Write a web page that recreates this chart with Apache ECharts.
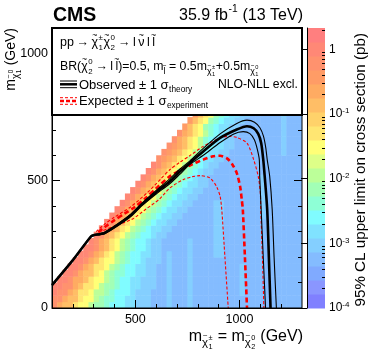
<!DOCTYPE html>
<html>
<head>
<meta charset="utf-8">
<script src="https://cdn.jsdelivr.net/npm/echarts@6.0.0/dist/echarts.min.js"></script>
<style>
  html, body { margin: 0; padding: 0; background: #fff; }
  #chart { width: 374px; height: 359px; }
</style>
</head>
<body>
<div id="chart"></div>
<script>
const FONT = '"Liberation Sans", Arial, Helvetica, sans-serif';

// upper-limit map: 25 GeV bins, first column at m(chargino) = 100, first row at m(LSP) = 0
// one letter per bin = colour band (a = lowest band ... t = highest), '.' = no point
const CELL = 25;
const X_START = 100;
const LEVELS = 'abcdefghijklmnopqrst';
const cellRows = [
  "rpoomllj iihgggff eeeddded ddeddddd dddddddd dddddddd",
  "rrpoomll jihhggff eeeddded ddeddddd dddddddd dddddddd",
  "srrpomml jjihgggf eeeddded ddeddddd ddddeddd dddddddd",
  "ssrrpomm ljiihggf feeedded ddeddddd ddddeddd dddddddd",
  ".ssrppom lljihggf feeedded ddeddddd ddddeddd dddddddd",
  "..ssrpoo mljihhgg ffeedded ddeddddd ddddeddd dddddddd",
  "...ssrpo mmljihgg ffeedded ddeddddd ddddeddd dddddddd",
  "....ssrp omlljihg gfeeeded ddeddddd dddddddd dddddddd",
  ".....ssr pomljihg gffeeded ddedddde eddddddd dddddddd",
  "......ss rpomljih ggfeeddd ddedddde eddddddd dddddddd",
  ".......s rpomljih ggfeeddd ddedddde eddddddd dddddddd",
  "........ srpomlji hggfeedd ddddddde eddddddd dddddddd",
  "........ .srpomlj ihgffeed ddddddde eddddddd dddddddd",
  "........ ..srpoml jihgffee ddddddde eddddddd dddddddd",
  "........ ...srpom ljihgffe edddddde eddddddd eddddddd",
  "........ ....srpo mljihgff eeddddde eddddddd eddddddd",
  "........ .....srp omljihgf feedddde eddddddd eddddddd",
  "........ ......sr pomljihg ffeedddd dddddddd eddddddd",
  "........ .......s rpomljih gffeeddd dddddddd eddddddd",
  "........ ........ srpomlji hgffeedd dddddddd eddddddd",
  "........ ........ .srpomlj ihgfeedd dddddddd eddddddd",
  "........ ........ ..srpoml jihgfeed dddddddd dddddddd",
  "........ ........ ...srpom ljihgfee dddddddd dddddddd",
  "........ ........ ....rqpo mljhgffe eddddddd dddddddd",
  "........ ........ .....rqp omljhgff eedddddd ddddeddd",
  "........ ........ ......rq pomljhgf feeddddd ddddeddd",
  "........ ........ .......r pomljhgf feeddddd ddddeddd",
  "........ ........ ........ rpomljhg ffeedddd ddddeddd",
  "........ ........ ........ .qomlihg ffeedddd ddddeddd",
  "........ ........ ........ ..qomlih gffeeddd ddddeddd",
  "........ ........ ........ ...qomli hgffeedd ddddeddd"
];

// colour bar: 20 bands on log10(pb) from -4 to 0.33
const bandColors = [
  '#8080ff', '#8a96ff', '#80aaff', '#84bcff', '#84cfff', '#80e2ff', '#80fcff',
  '#8effd6', '#a2ffb6', '#bcff99', '#deff88', '#ffff77', '#ffe672', '#ffd26a',
  '#ffbe66', '#ffab62', '#ff9c66', '#ff926e', '#ff8876', '#ff7f7f'
];
const Z_MIN = -4, Z_MAX = 0.33;
const Z_STEP = (Z_MAX - Z_MIN) / bandColors.length;

// contours [m(chargino), m(LSP)] in GeV
const observed = [[100,90],[200,188],[287,281],[303,287],[330,290],[351,294],[416,327],[481,366],[529,405],[600,455],[665,497],[713,535],[761,570],[826,615],[907,668],[987,701],[1036,714],[1068,706],[1090,684],[1104,648],[1114,583],[1121,517],[1133,386],[1141,200],[1149,0]];
const obsUp = [[100,92],[200,190],[287,283],[303,289],[330,293],[351,297],[416,331],[481,371],[529,410],[600,462],[665,507],[713,545],[761,577],[826,627],[907,684],[987,725],[1036,738],[1072,730],[1098,708],[1115,675],[1126,630],[1133,583],[1145,517],[1157,386],[1166,200],[1177,0]];
const obsDown = [[100,88],[200,186],[287,279],[303,285],[330,288],[351,291],[416,323],[481,361],[529,400],[600,448],[665,488],[713,525],[761,563],[826,600],[907,650],[970,683],[1018,693],[1050,685],[1072,660],[1085,625],[1095,583],[1097,517],[1104,386],[1114,200],[1125,0]];
const expected = [[322,298],[360,322],[400,345],[450,372],[495,395],[550,432],[600,470],[665,517],[713,540],[761,560],[826,583],[874,596],[907,598],[940,588],[965,565],[987,530],[1003,477],[1011,425],[1016,386],[1026,200],[1036,0]];
const expUp = [[312,300],[350,328],[400,357],[479,398],[560,455],[620,505],[665,543],[713,572],[761,598],[826,635],[907,668],[950,675],[987,670],[1036,648],[1068,583],[1090,517],[1100,452],[1102,386],[1110,200],[1117,0]];
const expDown = [[325,298],[400,322],[487,350],[550,388],[616,428],[665,471],[729,504],[770,515],[810,520],[858,511],[890,477],[907,438],[915,386],[930,200],[946,0]];

const xMajor = [500, 1000];
const xMinor = [200, 300, 400, 600, 700, 800, 900, 1100, 1200];
const yMajor = [0, 500, 1000];
const yMinor = [100, 200, 300, 400, 600, 700, 800, 900];
const zMajor = [-4, -3, -2, -1, 0];

function bandValue(k) { return Math.pow(10, Z_MIN + (k + 0.5) * Z_STEP); }
function colorOf(v) {
  let k = Math.floor((Math.log10(v) - Z_MIN) / Z_STEP);
  k = Math.max(0, Math.min(bandColors.length - 1, k));
  return bandColors[k];
}

const cells = [];
cellRows.forEach((row, j) => {
  row.replace(/ /g, '').split('').forEach((c, i) => {
    if (c === '.') return;
    cells.push([X_START + i * CELL, j * CELL, bandValue(LEVELS.indexOf(c))]);
  });
});

const zMinor = [];
zMajor.forEach(d => {
  for (let m = 2; m <= 9; m++) {
    const v = d + Math.log10(m);
    if (v < Z_MAX) zMinor.push(v);
  }
});

// ---- text helpers (ROOT-like sub/superscripts) ----
const mctx = document.createElement('canvas').getContext('2d');
function tw(s, size, weight) {
  mctx.font = (weight || 'normal') + ' ' + size + 'px ' + FONT;
  return mctx.measureText(s).width;
}
function txt(x, y, s, size, opt) {
  opt = opt || {};
  return {
    type: 'text', x: x, y: y, z: 110,
    style: {
      text: s, fontSize: size, fontFamily: FONT, fontWeight: opt.weight || 'normal',
      fill: '#000', align: opt.align || 'left', verticalAlign: 'middle'
    }
  };
}
function flow(pieces, size) {
  const els = [];
  let x = 0;
  pieces.forEach(p => {
    if (typeof p === 'string') {
      els.push(txt(x, 0, p, size));
      x += tw(p, size);
      return;
    }
    const s = p.lvl ? size * 0.72 : size;
    const y0 = p.lvl ? size * 0.34 : 0;
    let w = 0;
    if (p.t) {
      els.push(txt(x, y0, p.t, s));
      w = tw(p.t, s);
      if (p.tilde) els.push(txt(x + w / 2, y0 - s * 0.62, '~', s * 0.7, { align: 'center' }));
    }
    const ss = s * 0.64;
    let w2 = 0;
    if (p.sup) { els.push(txt(x + w + 0.5, y0 - s * 0.42, p.sup, ss)); w2 = Math.max(w2, tw(p.sup, ss)); }
    if (p.sub) { els.push(txt(x + w + 0.5, y0 + s * 0.36, p.sub, ss)); w2 = Math.max(w2, tw(p.sub, ss)); }
    x += w + (w2 ? w2 + 1 : 0);
  });
  return { els: els, width: x };
}
function place(pieces, size, x, y, opt) {
  opt = opt || {};
  const f = flow(pieces, size);
  return {
    type: 'group', x: x, y: y, rotation: opt.rotate ? Math.PI / 2 : 0,
    children: [{ type: 'group', x: opt.align === 'right' ? -f.width : 0, y: 0, children: f.els }]
  };
}
function seg(x1, y1, x2, y2, color, width, dash) {
  return {
    type: 'line', z: 110, shape: { x1: x1, y1: y1, x2: x2, y2: y2 },
    style: { stroke: color, lineWidth: width, lineDash: dash || null }
  };
}

const TS = '\u2009';
const chiPM1 = { t: 'χ', tilde: 1, sup: '±', sub: '1' };
const chi02 = { t: 'χ', tilde: 1, sup: '0', sub: '2' };

const graphics = [
  txt(53, 16, 'CMS', 19.5, { weight: 'bold' }),
  place(['35.9 fb', { sup: '-1' }, ' (13 TeV)'], 16, 303, 16, { align: 'right' }),
  { type: 'rect', z: 100, shape: { x: 52, y: 28, width: 250, height: 87 },
    style: { fill: '#fff', stroke: '#000', lineWidth: 2 } },
  place(['pp' + TS, '→', TS, chiPM1, chi02, TS + '→' + TS + 'l' + TS, { t: 'ν', tilde: 1 }, TS + 'l' + TS, { t: 'l', tilde: 1 }], 12.5, 60, 43),
  place(['BR(', chi02, TS + '→' + TS + 'l' + TS, { t: 'l', tilde: 1 }, ')=0.5, m', { t: 'l', tilde: 1, lvl: 1 },
         ' = 0.5m', { t: 'χ', tilde: 1, lvl: 1, sup: '±', sub: '1' },
         '+0.5m', { t: 'χ', tilde: 1, lvl: 1, sup: '0', sub: '1' }], 12.3, 60, 67),
  seg(60, 81, 77, 81, '#000', 1),
  seg(60, 84.3, 77, 84.3, '#000', 2.5),
  seg(60, 87.7, 77, 87.7, '#000', 1),
  place(['Observed ± 1 σ', { sub: 'theory' }], 13, 79, 85),
  txt(218, 85, 'NLO-NLL excl.', 12.2),
  seg(60, 97.7, 77, 97.7, '#ff0000', 1, [3, 2]),
  seg(60, 101, 77, 101, '#ff0000', 2.5, [4, 2]),
  seg(60, 104.3, 77, 104.3, '#ff0000', 1, [3, 2]),
  place(['Expected ± 1 σ', { sub: 'experiment' }], 13, 79, 101.5),
  place(['m', { t: 'χ', tilde: 1, lvl: 1, sup: '±', sub: '1' }, ' = m',
         { t: 'χ', tilde: 1, lvl: 1, sup: '0', sub: '2' }, ' (GeV)'], 16, 303, 337, { align: 'right' }),
  place(['m', { t: 'χ', tilde: 1, lvl: 1, sup: '0', sub: '1' }, ' (GeV)'], 14, 11, 28, { align: 'right', rotate: true }),
  place(['95% CL upper limit on cross section (pb)'], 15.2, 361, 33, { align: 'right', rotate: true })
];

function tickAxis(grid, pos, min, max, ticks, len, labels) {
  const a = {
    gridIndex: grid, type: 'value', position: pos, min: min, max: max, z: 10,
    splitLine: { show: false },
    axisLine: { show: !!labels, lineStyle: { color: '#000', width: 1 } },
    axisTick: { show: true, inside: true, length: len, customValues: ticks, lineStyle: { color: '#000', width: 1 } },
    axisLabel: { show: false }
  };
  if (labels) a.axisLabel = labels;
  return a;
}

const plainLabel = (vals, margin) => ({
  show: true, customValues: vals, color: '#000', fontSize: 12.5, fontFamily: FONT, margin: margin,
  formatter: v => String(v)
});

const chart = echarts.init(document.getElementById('chart'));
chart.setOption({
  animation: false,
  backgroundColor: '#fff',
  grid: [
    { left: 52, top: 28, width: 250, height: 280, show: true, z: 10, borderColor: '#000', borderWidth: 1,
      backgroundColor: 'transparent', containLabel: false, outerBoundsMode: 'none' },
    { left: 307, top: 28, width: 18, height: 280, show: false, containLabel: false, outerBoundsMode: 'none' }
  ],
  xAxis: [
    tickAxis(0, 'bottom', 100, 1300, xMajor, 8, plainLabel(xMajor, 5)),
    tickAxis(0, 'bottom', 100, 1300, xMinor, 4),
    { gridIndex: 1, type: 'value', min: 0, max: 1, show: false }
  ],
  yAxis: [
    tickAxis(0, 'left', 0, 1100, yMajor, 8, plainLabel(yMajor, 4)),
    tickAxis(0, 'left', 0, 1100, yMinor, 4),
    tickAxis(0, 'right', 0, 1100, [500, 1000], 8),
    tickAxis(0, 'right', 0, 1100, yMinor, 4),
    tickAxis(1, 'right', Z_MIN, Z_MAX, zMajor, 6, {
      show: true, customValues: zMajor, margin: 4,
      formatter: v => (Math.round(v) === 0 ? '{n|1}' : '{n|10}{s|' + Math.round(v) + '}'),
      rich: {
        n: { fontSize: 12, fontFamily: FONT, color: '#000' },
        s: { fontSize: 8, fontFamily: FONT, color: '#000', verticalAlign: 'top', padding: [0, 0, 6, 0] }
      }
    }),
    tickAxis(1, 'right', Z_MIN, Z_MAX, zMinor, 3)
  ],
  series: [
    {
      type: 'custom', name: 'limit', xAxisIndex: 0, yAxisIndex: 0, z: 1, clip: true,
      data: cells, encode: { x: 0, y: 1 },
      renderItem: (params, api) => {
        const x = api.value(0), y = api.value(1);
        const p0 = api.coord([x, y + CELL]);
        const p1 = api.coord([x + CELL, y]);
        return {
          type: 'rect',
          shape: { x: p0[0], y: p0[1], width: p1[0] - p0[0] + 0.5, height: p1[1] - p0[1] + 0.5 },
          style: { fill: colorOf(api.value(2)) }
        };
      }
    },
    {
      type: 'custom', name: 'colorbar', xAxisIndex: 2, yAxisIndex: 4, z: 1,
      data: bandColors.map((c, k) => [k]),
      renderItem: (params, api) => {
        const k = api.value(0);
        const p0 = api.coord([0, Z_MIN + (k + 1) * Z_STEP]);
        const p1 = api.coord([1, Z_MIN + k * Z_STEP]);
        return {
          type: 'rect',
          shape: { x: p0[0], y: p0[1], width: p1[0] - p0[0], height: p1[1] - p0[1] + 0.5 },
          style: { fill: bandColors[k] }
        };
      }
    },
    { type: 'line', name: 'exp-1', data: expDown, xAxisIndex: 0, yAxisIndex: 0, z: 3, showSymbol: false, smooth: 0.25,
      lineStyle: { color: '#ff0000', width: 1.1, type: [3, 2] } },
    { type: 'line', name: 'exp+1', data: expUp, xAxisIndex: 0, yAxisIndex: 0, z: 3, showSymbol: false, smooth: 0.25,
      lineStyle: { color: '#ff0000', width: 1.1, type: [3, 2] } },
    { type: 'line', name: 'expected', data: expected, xAxisIndex: 0, yAxisIndex: 0, z: 3, showSymbol: false, smooth: 0.25,
      lineStyle: { color: '#ff0000', width: 2.6, type: [5, 3] } },
    { type: 'line', name: 'obs-1', data: obsDown, xAxisIndex: 0, yAxisIndex: 0, z: 4, showSymbol: false, smooth: 0.25,
      lineStyle: { color: '#000', width: 1.1 } },
    { type: 'line', name: 'obs+1', data: obsUp, xAxisIndex: 0, yAxisIndex: 0, z: 4, showSymbol: false, smooth: 0.25,
      lineStyle: { color: '#000', width: 1.1 } },
    { type: 'line', name: 'observed', data: observed, xAxisIndex: 0, yAxisIndex: 0, z: 4, showSymbol: false, smooth: 0.25,
      lineStyle: { color: '#000', width: 2.6 } }
  ],
  graphic: graphics
});
</script>
</body>
</html>
